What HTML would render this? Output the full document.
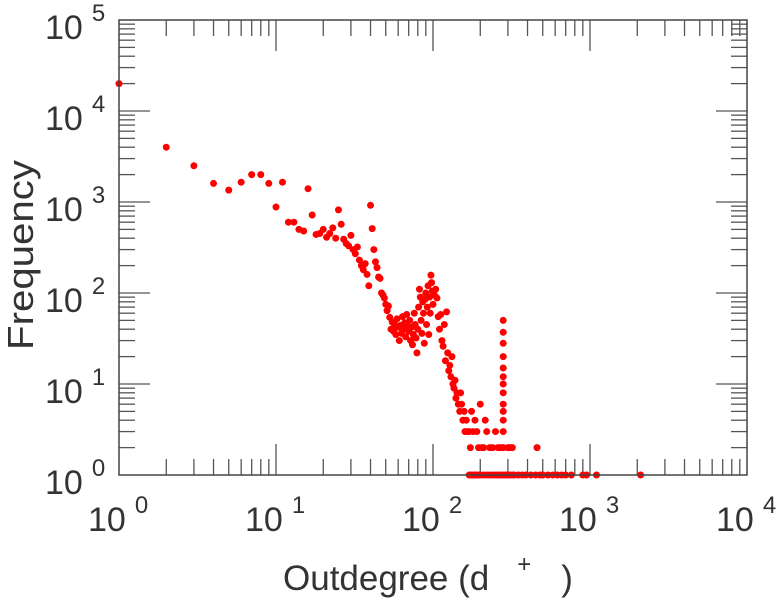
<!DOCTYPE html>
<html><head><meta charset="utf-8"><style>
html,body{margin:0;padding:0;background:#fff;}
svg{display:block;font-family:"Liberation Sans",sans-serif;}
</style></head><body>
<svg id="chart" width="779" height="600" viewBox="0 0 779 600">
<g id="ticks"></g>
<g id="points"></g>
<rect x="119" y="20" width="628" height="455" fill="none" stroke="#444" stroke-width="1.5"/>
<g id="labels" fill="#333" font-size="34"></g>
<text x="0" y="0" transform="translate(33,255) rotate(-90)" text-anchor="middle" font-size="36" textLength="190" lengthAdjust="spacingAndGlyphs" fill="#333">Frequency</text>
<text x="283" y="590" font-size="35" fill="#333">Outdegree (d<tspan dx="28" dy="-18" font-size="24">+</tspan><tspan dx="30" dy="18">)</tspan></text>
</svg>
<script>
const xTickExps = [0,1,2,3,4];
const yTickExps = [0,1,2,3,4,5];
const degrees = [1,2,3,4,5,6,7,8,9,10,11,12,13,14,15,16,17,18,19,20,21,22,23,24,25,26,27,28,29,30,31,32,33,34,35,36,37,38,39,40,41,42,43,44,45,46,47,48,49,50,51,52,53,54,55,56,57,58,59,60,61,62,63,64,65,66,67,68,69,70,71,72,73,74,75,76,77,78,79,80,81,82,83,84,85,86,87,88,89,90,91,92,93,94,95,96,97,98,99,100,102,104,106,108,110,112,114,116,118,120,122,124,126,128,130,132,134,136,138,140,142,145,148,150,152,155,158,160,163,166,170,173,176,180,185,190,195,200,205,210,215,220,230,240,250,260,270,
280,280,280,280,280,280,280,280,280,280,280,280,280,280,
170,175,180,185,190,195,200,210,220,230,240,250,260,270,290,300,310,320,330,350,370,390,420,450,480,500,540,580,620,660,700,760,900,950,1100,2100,
460,300,310,320];
const frequencies = [20000,4000,2500,1600,1350,1650,2000,2000,1600,880,1650,600,600,500,480,1400,720,440,450,500,410,450,520,400,820,570,390,350,330,430,300,270,320,230,200,180,210,160,120,920,510,300,220,190,150,145,100,95,88,75,64,72,54,40,48,38,45,35,52,42,30,44,36,55,40,47,33,58,43,38,50,30,42,27,35,60,45,32,22,40,70,110,90,50,36,80,60,28,85,100,45,70,120,35,90,60,157,130,105,75,95,110,88,55,40,58,30,26,45,18,62,22,14,16,12,20,10,9,11,7,8,6,5,8,6,4,5,3,4,3,3,2,5,3,4,3,2,6,2,2,4,3,2,2,3,2,2,
50,37,28,20,15,12,10,8,6,5,4,3,2,1,
1,1,1,1,1,1,1,1,1,1,1,1,1,1,1,1,1,1,1,1,1,1,1,1,1,1,1,1,1,1,1,1,1,1,1,1,
2,2,2,2];
const NS="http://www.w3.org/2000/svg";
const X0=119,X1=747,Y0=475,Y1=20;
function xs(d){return X0+Math.log10(d)/4*(X1-X0);}
function ys(f){return Y0-Math.log10(f)/5*(Y0-Y1);}
const tg=document.getElementById('ticks');
function line(x1,y1,x2,y2,name){
  const l=document.createElementNS(NS,'line');
  l.setAttribute('x1',x1);l.setAttribute('y1',y1);l.setAttribute('x2',x2);l.setAttribute('y2',y2);
  l.setAttribute('stroke','#555');l.setAttribute('stroke-width','1.3');
  
  
  tg.appendChild(l);
}
for(let e=0;e<4;e++){for(let m=1;m<10;m++){const x=xs(m*Math.pow(10,e));const L=m===1?31:16;
  if(m===1&&e===0)continue;
  line(x,Y0,x,Y0-L,'x-tick');line(x,Y1,x,Y1+L,'x-tick-top');}}
for(let e=0;e<5;e++){for(let m=1;m<10;m++){const y=ys(m*Math.pow(10,e));const L=m===1?31:16;
  if(m===1&&e===0)continue;
  line(X0,y,X0+L,y,'y-tick');line(X1,y,X1-L,y,'y-tick-right');}}
const lg=document.getElementById('labels');
function label(x,y,exp,name){
  const t=document.createElementNS(NS,'text');
  t.setAttribute('x',x);t.setAttribute('y',y);
  
  
  t.innerHTML='10<tspan dx="9" dy="-18" font-size="24">'+exp+'</tspan>';
  lg.appendChild(t);
}
xTickExps.forEach(e=>label(xs(Math.pow(10,e))-31,531,e,'x-tick-label'));
yTickExps.forEach(e=>label(45,ys(Math.pow(10,e))+19,e,'y-tick-label'));
const pg=document.getElementById('points');
degrees.forEach((d,i)=>{
  const c=document.createElementNS(NS,'circle');
  c.setAttribute('cx',xs(d));c.setAttribute('cy',ys(frequencies[i]));c.setAttribute('r','3.5');
  c.setAttribute('fill','#ff0000');
  
  
  pg.appendChild(c);
});
</script>
</body></html>
